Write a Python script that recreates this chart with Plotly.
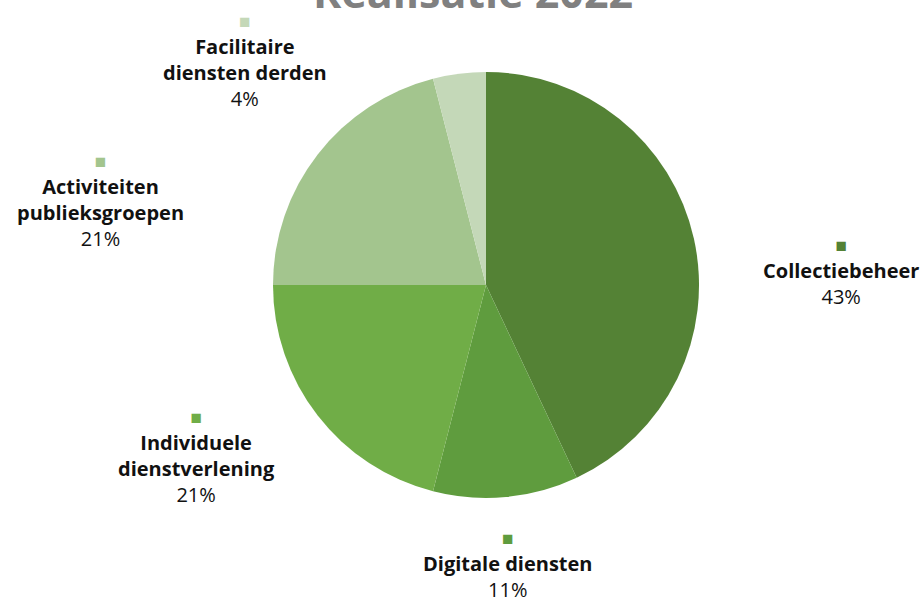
import plotly.graph_objects as go

categories = ["Collectiebeheer", "Digitale diensten", "Individuele dienstverlening",
              "Activiteiten publieksgroepen", "Facilitaire diensten derden"]
label_lines = ["Collectiebeheer", "Digitale diensten", "Individuele<br>dienstverlening",
               "Activiteiten<br>publieksgroepen", "Facilitaire<br>diensten derden"]
values = [43, 11, 21, 21, 4]
colors = ["#548235", "#5F9C3E", "#70AD47", "#A3C58E", "#C4D8B8"]
title_text = "Realisatie 2022"

W, H = 923, 602
cx, cy, r = 486, 285, 213

fig = go.Figure()
fig.add_trace(go.Pie(
    labels=categories, values=values, sort=False, direction="clockwise",
    rotation=0, marker=dict(colors=colors, line=dict(width=0)),
    textinfo="none", hoverinfo="label+percent", showlegend=False,
    domain=dict(x=[(cx - r) / W, (cx + r) / W], y=[(H - cy - r) / H, (H - cy + r) / H]),
))

# label block centers (screen pixels)
label_pos = [(841, 271), (508, 564), (196, 456), (100, 200), (245, 60)]
for name, v, col, (lx, ly) in zip(label_lines, values, colors, label_pos):
    fig.add_annotation(
        x=lx / W, y=1 - ly / H, xref="paper", yref="paper",
        xanchor="center", yanchor="middle", showarrow=False, align="center",
        text=f"<span style='color:{col};font-size:19px'>■</span><br><b>{name}</b><br>{v}%",
        font=dict(family="Open Sans", size=20, color="#111111"),
    )

fig.add_annotation(
    x=473 / W, y=1 + 9 / H, xref="paper", yref="paper", xanchor="center", yanchor="middle",
    showarrow=False, text=f"<b>{title_text}</b>",
    font=dict(family="Open Sans", size=43, color="#808080"),
)

fig.update_layout(
    width=W, height=H, margin=dict(l=0, r=0, t=0, b=0),
    paper_bgcolor="white", plot_bgcolor="white",
)
fig.write_html("out.html", config={"displayModeBar": False},
               post_script="document.body.style.margin='0';")
